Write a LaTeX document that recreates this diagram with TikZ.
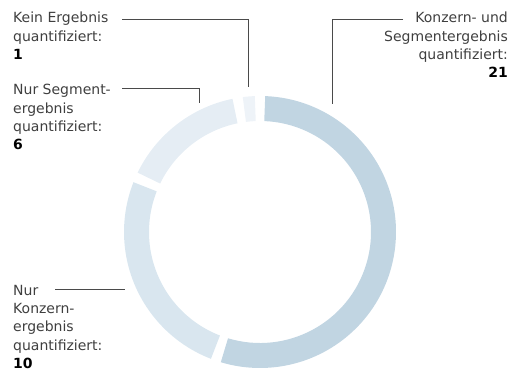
\documentclass[tikz,border=0pt]{standalone}
\usepackage{fontspec}
\setmainfont{DejaVu Sans}
\definecolor{seg_both}{HTML}{C1D5E2}
\definecolor{seg_group}{HTML}{D9E6EF}
\definecolor{seg_segment}{HTML}{E5EDF4}
\definecolor{seg_none}{HTML}{EEF3F8}
\definecolor{label_text}{HTML}{3F3F3F}
\definecolor{leader_line}{HTML}{4A4A4A}

\begin{document}
\begin{tikzpicture}[x=1pt,y=1pt,line cap=butt,line join=miter,
  every node/.style={inner sep=0pt,font=\fontsize{14}{18.3}\selectfont,text=label_text},
  leader/.style={draw=leader_line,line width=0.8pt}]

\useasboundingbox (0,0) rectangle (513,371);

\def\rOut{136pt}
\def\rIn{111pt}
\def\gap{2.2}

%-----------------------------------------------
% ring segments (21, 10, 6, 1 of 38), clockwise from the top
\begin{scope}[shift={(260,139)}]
\foreach \from/\to/\col in {90/-108.947/seg_both,
                            -108.947/-203.684/seg_group,
                            -203.684/-260.526/seg_segment,
                            -260.526/-270/seg_none}
{
  \pgfmathsetmacro{\a}{\from-\gap}
  \pgfmathsetmacro{\b}{\to+\gap}
  \fill[\col] (\a:\rOut) arc[start angle=\a, end angle=\b, radius=\rOut]
    -- (\b:\rIn) arc[start angle=\b, end angle=\a, radius=\rIn] -- cycle;
}
\end{scope}

%-----------------------------------------------
% labels (base = baseline of the last line)
\node[anchor=base west,align=left] (kein) at (13,311.4)
  {Kein Ergebnis\\quantifiziert:\\\textbf{\color{black}1}};
\node[anchor=base west,align=left] (segment) at (13,221.1)
  {Nur Segment-\\ergebnis\\quantifiziert:\\\textbf{\color{black}6}};
\node[anchor=base west,align=left] (konzern) at (13,2.5)
  {Nur\\Konzern-\\ergebnis\\quantifiziert:\\\textbf{\color{black}10}};
\node[anchor=base east,align=right] (beide) at (508,293.1)
  {Konzern- und\\Segmentergebnis\\quantifiziert:\\\textbf{\color{black}21}};

%-----------------------------------------------
% leader lines
\coordinate (kein-a) at (122,352);
\coordinate (kein-b) at (248,284);
\coordinate (segment-a) at (122,283);
\coordinate (segment-b) at (199,268);
\coordinate (konzern-a) at (55,82);
\coordinate (konzern-b) at (125,82);
\coordinate (beide-a) at (403,352);
\coordinate (beide-b) at (332,267);

\draw[leader] (kein-a) -| (kein-b);
\draw[leader] (segment-a) -| (segment-b);
\draw[leader] (konzern-a) -- (konzern-b);
\draw[leader] (beide-a) -| (beide-b);

\end{tikzpicture}
\end{document}
